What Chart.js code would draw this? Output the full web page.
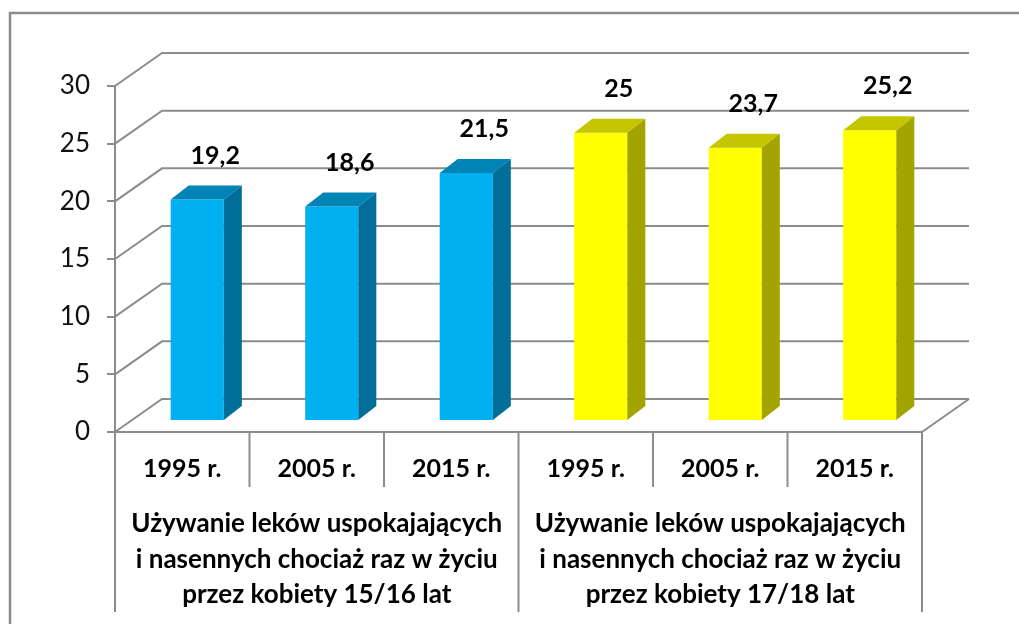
<!DOCTYPE html>
<html>
<head>
    <title>Leki uspokajajace</title>
    <script src="https://cdn.jsdelivr.net/npm/chart.js"></script>
    <style>
        html, body { margin: 0; padding: 0; background: #fff; }
    </style>
</head>
<body>
    <canvas id="myChart" width="1019" height="624"></canvas>
    <script>
        // data
        var years = ['1995 r.', '2005 r.', '2015 r.', '1995 r.', '2005 r.', '2015 r.'];
        var groupOf = [0, 0, 0, 1, 1, 1];
        var groupLabels = [
            ['Używanie leków uspokajających', 'i nasennych chociaż raz w życiu', 'przez kobiety 15/16 lat'],
            ['Używanie leków uspokajających', 'i nasennych chociaż raz w życiu', 'przez kobiety 17/18 lat']
        ];
        var values = [19.2, 18.6, 21.5, 25, 23.7, 25.2];
        var yMin = 0, yMax = 30, yStep = 5;

        var frontColors = ['#00b0f0', '#ffff00'];
        var topColors = ['#0084b5', '#c6c600'];
        var sideColors = ['#006e98', '#a4a400'];
        var lineColor = '#8c8c8c';
        var font = 'Lato, "Open Sans", sans-serif';

        // 3d look: depth of the walls and bar offsets
        var wallDx = 47, wallDy = -33;
        var barShiftX = 15, barShiftY = -11;
        var barDx = 18, barDy = -14;

        var pseudo3d = {
            id: 'pseudo3d',
            beforeDraw: function(chart) {
                var c = chart.ctx;
                c.save();
                c.strokeStyle = lineColor;
                c.lineWidth = 2.5;
                c.strokeRect(10, 13, chart.width + 20, chart.height + 20);
                c.restore();
            },
            beforeDatasetsDraw: function(chart) {
                var c = chart.ctx, a = chart.chartArea, ys = chart.scales.y;
                c.save();
                c.strokeStyle = lineColor;
                c.lineWidth = 2;
                for (var v = yMin; v <= yMax; v += yStep) {
                    var y = ys.getPixelForValue(v);
                    c.beginPath();
                    c.moveTo(a.left, y);
                    c.lineTo(a.left + wallDx, y + wallDy);
                    c.lineTo(a.right + wallDx, y + wallDy);
                    c.stroke();
                }
                // right edge of the floor
                var y0 = ys.getPixelForValue(0);
                c.beginPath();
                c.moveTo(a.right + wallDx, y0 + wallDy);
                c.lineTo(a.right, y0);
                c.stroke();
                c.restore();

                c.save();
                c.translate(barShiftX, barShiftY);
            },
            afterDatasetsDraw: function(chart) {
                var c = chart.ctx;
                var bars = chart.getDatasetMeta(0).data;
                bars.forEach(function(bar, i) {
                    var g = groupOf[i];
                    var x0 = bar.x - bar.width / 2, x1 = bar.x + bar.width / 2;
                    c.fillStyle = topColors[g];
                    c.beginPath();
                    c.moveTo(x0, bar.y);
                    c.lineTo(x0 + barDx, bar.y + barDy);
                    c.lineTo(x1 + barDx, bar.y + barDy);
                    c.lineTo(x1, bar.y);
                    c.closePath();
                    c.fill();
                    c.fillStyle = sideColors[g];
                    c.beginPath();
                    c.moveTo(x1, bar.y);
                    c.lineTo(x1 + barDx, bar.y + barDy);
                    c.lineTo(x1 + barDx, bar.base + barDy);
                    c.lineTo(x1, bar.base);
                    c.closePath();
                    c.fill();

                    c.fillStyle = '#000';
                    c.font = 'bold 25px ' + font;
                    c.textAlign = 'center';
                    c.textBaseline = 'middle';
                    c.fillText(String(values[i]).replace('.', ','), bar.x + barDx, bar.y - 44);
                });
                c.restore();
            },
            afterDraw: function(chart) {
                var c = chart.ctx, a = chart.chartArea, xs = chart.scales.x;
                var n = years.length;
                var w = (a.right - a.left) / n;
                c.save();
                c.strokeStyle = lineColor;
                c.lineWidth = 2;
                for (var i = 0; i <= n; i++) {
                    var x = a.left + i * w;
                    var long = (i === 0 || i === n || groupOf[i] !== groupOf[i - 1]);
                    c.beginPath();
                    c.moveTo(x, a.bottom);
                    c.lineTo(x, long ? a.bottom + 180 : a.bottom + 55);
                    c.stroke();
                }
                c.fillStyle = '#000';
                c.font = 'bold 26px ' + font;
                c.textAlign = 'center';
                c.textBaseline = 'middle';
                groupLabels.forEach(function(lines, g) {
                    var idx = [];
                    groupOf.forEach(function(gg, k) { if (gg === g) idx.push(k); });
                    var cx = (xs.getPixelForValue(idx[0]) + xs.getPixelForValue(idx[idx.length - 1])) / 2;
                    lines.forEach(function(t, l) {
                        c.fillText(t, cx, a.bottom + 92 + l * 35.5);
                    });
                });
                c.restore();
            }
        };

        var ctx = document.getElementById('myChart').getContext('2d');
        var myChart = new Chart(ctx, {
            type: 'bar',
            data: {
                labels: years,
                datasets: [{
                    data: values,
                    backgroundColor: groupOf.map(function(g) { return frontColors[g]; }),
                    borderWidth: 0,
                    barPercentage: 0.395,
                    categoryPercentage: 1.0
                }]
            },
            options: {
                responsive: false,
                animation: false,
                layout: { padding: { top: 86, right: 97, left: 0, bottom: 0 } },
                plugins: {
                    legend: { display: false },
                    tooltip: { enabled: false }
                },
                scales: {
                    x: {
                        grid: { display: false, drawTicks: false },
                        border: { display: true, color: lineColor, width: 2 },
                        ticks: {
                            color: '#000',
                            font: { family: font, size: 25, weight: 'bold' },
                            padding: 22,
                            maxRotation: 0,
                            autoSkip: false
                        },
                        afterFit: function(s) { s.height = 192; }
                    },
                    y: {
                        min: yMin,
                        max: yMax,
                        ticks: {
                            stepSize: yStep,
                            color: '#111',
                            font: { family: font, size: 26 },
                            padding: 17
                        },
                        grid: { display: true, drawOnChartArea: false, drawTicks: true, tickLength: 8, color: lineColor, lineWidth: 2 },
                        border: { display: true, color: lineColor, width: 2 },
                        afterFit: function(s) { s.width = 115; }
                    }
                }
            },
            plugins: [pseudo3d]
        });
    </script>
</body>
</html>
